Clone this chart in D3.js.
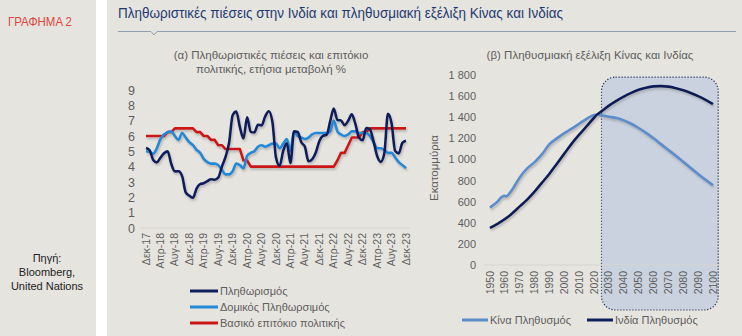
<!DOCTYPE html>
<html><head><meta charset="utf-8">
<script src="https://cdn.jsdelivr.net/npm/d3@7"></script>
<style>
html,body{margin:0;padding:0;background:#fff;}
svg{display:block;font-family:"Liberation Sans",Arial,sans-serif;}
</style></head>
<body>
<svg id="c" width="742" height="336"></svg>
<script>
// ---------- DATA ----------
const monthLabels = ["Δεκ-17","Απρ-18","Αυγ-18","Δεκ-18","Απρ-19","Αυγ-19","Δεκ-19","Απρ-20","Αυγ-20","Δεκ-20","Απρ-21","Αυγ-21","Δεκ-21","Απρ-22","Αυγ-22","Δεκ-22","Απρ-23","Αυγ-23","Δεκ-23"];
// monthly, Dec 2017 .. Dec 2023
const inflation = [5.21,
 5.07,4.44,4.28,4.58,4.87,5.00,4.17,3.69,3.70,3.38,2.33,2.11,
 1.97,2.57,2.86,2.92,3.05,3.18,3.15,3.28,3.99,4.62,5.54,7.35,
 7.59,6.58,5.84,7.22,6.27,6.23,6.73,6.69,7.27,7.61,6.93,4.59,
 4.06,5.03,5.52,4.23,6.30,6.26,5.59,5.30,4.35,4.48,4.91,5.66,
 6.01,6.07,6.95,7.79,7.04,7.01,6.71,7.00,7.41,6.77,5.88,5.72,
 6.52,6.44,5.66,4.70,4.31,4.87,7.44,6.83,5.02,4.87,5.55,5.69];
const coreInflation = [5.0,
 4.95,4.85,5.2,5.8,6.1,6.25,6.3,6.0,5.75,6.2,5.9,5.6,
 5.4,5.1,4.9,4.5,4.3,4.2,4.2,4.1,3.8,3.5,3.5,3.7,
 4.2,4.1,3.9,4.7,4.9,5.0,5.3,5.4,5.3,5.4,5.5,5.5,
 5.2,5.5,5.8,5.0,6.3,6.0,5.9,5.8,5.9,6.1,6.2,6.2,
 6.2,6.2,6.3,7.0,6.3,6.1,6.0,6.1,6.3,6.3,6.2,6.2,
 6.2,6.0,5.6,5.2,5.2,5.1,4.9,4.9,4.6,4.3,4.1,3.9];
const policyRate = [6.00,
 6.00,6.00,6.00,6.00,6.00,6.25,6.25,6.50,6.50,6.50,6.50,6.50,
 6.50,6.25,6.25,6.00,6.00,5.75,5.75,5.40,5.40,5.15,5.15,5.15,
 5.15,5.15,4.40,4.40,4.00,4.00,4.00,4.00,4.00,4.00,4.00,4.00,
 4.00,4.00,4.00,4.00,4.00,4.00,4.00,4.00,4.00,4.00,4.00,4.00,
 4.00,4.00,4.00,4.00,4.40,4.90,4.90,5.40,5.90,5.90,5.90,6.25,
 6.25,6.50,6.50,6.50,6.50,6.50,6.50,6.50,6.50,6.50,6.50,6.50];
const leftYTicks = [0,1,2,3,4,5,6,7,8,9];

const popYears = [1950,1955,1958,1960,1961,1962,1965,1970,1975,1980,1985,1990,1995,2000,2005,2010,2015,2020,2022,2025,2030,2035,2040,2045,2050,2055,2060,2065,2070,2075,2080,2085,2090,2095,2100];
const chinaPop = [544,600,645,655,650,660,715,830,915,975,1050,1145,1200,1250,1292,1338,1385,1420,1426,1418,1405,1392,1370,1338,1298,1252,1200,1145,1090,1035,978,920,862,808,755];
const indiaPop = [350,390,415,435,445,455,490,555,620,695,780,865,960,1055,1150,1235,1315,1395,1425,1455,1510,1555,1595,1630,1660,1680,1692,1695,1690,1675,1655,1630,1600,1565,1525];
const yearTicks = [1950,1960,1970,1980,1990,2000,2010,2020,2030,2040,2050,2060,2070,2080,2090,2100];
const rightYTicks = [0,200,400,600,800,1000,1200,1400,1600,1800];

// ---------- STYLE ----------
const BG = "#e6e4df", GREY = "#5e5e5e";
const C_INF = "#0d1f5c", C_CORE = "#2389d6", C_RATE = "#cc1818";
const C_CHN = "#5b8dcd", C_IND = "#0f1f57";

const svg = d3.select("#c");
const defs = svg.append("defs");
const f = defs.append("filter").attr("id","sh").attr("x","-10%").attr("y","-10%").attr("width","120%").attr("height","130%");
f.append("feDropShadow").attr("dx",1).attr("dy",2).attr("stdDeviation",1.2).attr("flood-color","#7a7a7a").attr("flood-opacity",0.45);

// panels
svg.append("rect").attr("x",0).attr("y",0).attr("width",96).attr("height",336).attr("fill",BG);
svg.append("rect").attr("x",107).attr("y",0).attr("width",635).attr("height",336).attr("fill",BG);

svg.append("text").attr("x",8).attr("y",26).attr("fill","#e0453a")
  .attr("font-family",'"Liberation Sans Narrow","Arial Narrow",sans-serif').attr("font-size",12.5)
  .attr("textLength",64).attr("lengthAdjust","spacingAndGlyphs").text("ΓΡΑΦΗΜΑ 2");
[["Πηγή:",262],["Bloomberg,",276],["United Nations",290]].forEach(([t,y])=>{
  svg.append("text").attr("x",47).attr("y",y).attr("text-anchor","middle").attr("fill","#222").attr("font-size",11).text(t);
});

// main title
svg.append("text").attr("x",118).attr("y",18).attr("fill","#1f3a70")
  .attr("font-family",'"Liberation Sans Narrow","Arial Narrow",sans-serif').attr("font-size",14)
  .attr("textLength",445).attr("lengthAdjust","spacingAndGlyphs")
  .text("Πληθωριστικές πιέσεις στην Ινδία και πληθυσμιακή εξέλιξη Κίνας και Ινδίας");
svg.append("path").attr("d","M118,31.5H151l3,3.5l3,-3.5H736").attr("fill","none").attr("stroke","#8d9db2").attr("stroke-width",1);

// ---------- LEFT CHART ----------
const xL = d3.scaleLinear().domain([0,72]).range([146,406]);
const yL = d3.scaleLinear().domain([0,9]).range([228,90]);

svg.append("text").attr("x",271).attr("y",59).attr("text-anchor","middle").attr("fill",GREY).attr("font-size",11.5).text("(α) Πληθωριστικές πιέσεις και επιτόκιο");
svg.append("text").attr("x",271).attr("y",73).attr("text-anchor","middle").attr("fill",GREY).attr("font-size",11.5).text("πολιτικής, ετήσια μεταβολή %");

svg.append("line").attr("x1",140).attr("x2",410).attr("y1",yL(0)).attr("y2",yL(0)).attr("stroke","#d6d4d0").attr("stroke-width",1);

const axL = svg.append("g").attr("transform","translate(137,0)")
  .call(d3.axisLeft(yL).tickValues(leftYTicks).tickSize(0).tickPadding(2).tickFormat(d3.format("d")));
axL.select(".domain").remove();
axL.selectAll("text").attr("fill",GREY).attr("font-size",12.5).attr("font-family",'"Liberation Sans",Arial,sans-serif');

svg.append("g").selectAll("text").data(monthLabels).join("text")
  .attr("transform",(d,i)=>`translate(${xL(i*4)+3.5},233) rotate(-90)`)
  .attr("text-anchor","end").attr("fill",GREY).attr("font-size",10.5).text(d=>d);

const lineL = c => d3.line().x((d,i)=>xL(i)).y(d=>yL(d)).curve(c);
const gL = svg.append("g").attr("filter","url(#sh)");
gL.append("path").datum(policyRate).attr("d",lineL(d3.curveLinear)).attr("fill","none").attr("stroke",C_RATE).attr("stroke-width",2.6).attr("stroke-linejoin","round");
gL.append("path").datum(coreInflation).attr("d",lineL(d3.curveMonotoneX)).attr("fill","none").attr("stroke",C_CORE).attr("stroke-width",2.6).attr("stroke-linejoin","round");
gL.append("path").datum(inflation).attr("d",lineL(d3.curveMonotoneX)).attr("fill","none").attr("stroke",C_INF).attr("stroke-width",2.6).attr("stroke-linejoin","round");

const legL = [["Πληθωρισμός",C_INF,291],["Δομικός Πληθωρσιμός",C_CORE,307],["Βασικό επιτόκιο πολιτικής",C_RATE,323]];
legL.forEach(([t,c,y])=>{
  svg.append("line").attr("x1",190).attr("x2",218).attr("y1",y).attr("y2",y).attr("stroke",c).attr("stroke-width",3);
  svg.append("text").attr("x",220).attr("y",y+4).attr("fill",GREY).attr("font-size",11).text(t);
});

// ---------- RIGHT CHART ----------
const xR = d3.scaleLinear().domain([1950,2100]).range([490,713]);
const yR = d3.scaleLinear().domain([0,1800]).range([265,75]);
const loc = d3.formatLocale({decimal:",",thousands:" ",grouping:[3],currency:["",""]});

svg.append("text").attr("x",590).attr("y",59).attr("text-anchor","middle").attr("fill",GREY).attr("font-size",11.5).text("(β) Πληθυσμιακή εξέλιξη Κίνας και Ινδίας");

// projection box
svg.append("rect").attr("x",xR(2025)).attr("y",yR(1780)).attr("width",xR(2103.5)-xR(2025)).attr("height",310-yR(1780))
  .attr("rx",14).attr("ry",14).attr("fill","#c9d2de").attr("stroke","#1d2d5a").attr("stroke-width",1.2).attr("stroke-dasharray","1.2,1.8");

svg.append("line").attr("x1",484).attr("x2",720).attr("y1",yR(0)).attr("y2",yR(0)).attr("stroke","#d6d4d0").attr("stroke-width",1);

const axR = svg.append("g").attr("transform","translate(479,0)")
  .call(d3.axisLeft(yR).tickValues(rightYTicks).tickSize(0).tickPadding(3).tickFormat(loc.format(",")));
axR.select(".domain").remove();
axR.selectAll("text").attr("fill",GREY).attr("font-size",11).attr("font-family",'"Liberation Sans",Arial,sans-serif');

svg.append("text").attr("transform","translate(438,168) rotate(-90)").attr("text-anchor","middle").attr("fill",GREY).attr("font-size",11.5).text("Εκατομμύρια");

svg.append("g").selectAll("text").data(yearTicks).join("text")
  .attr("transform",d=>`translate(${xR(d)+3.5},271) rotate(-90)`)
  .attr("text-anchor","end").attr("fill",GREY).attr("font-size",10.5).text(d=>d);

const lineR = d3.line().x((d,i)=>xR(popYears[i])).y(d=>yR(d)).curve(d3.curveMonotoneX);
const gR = svg.append("g").attr("filter","url(#sh)");
gR.append("path").datum(chinaPop).attr("d",lineR).attr("fill","none").attr("stroke",C_CHN).attr("stroke-width",2.6);
gR.append("path").datum(indiaPop).attr("d",lineR).attr("fill","none").attr("stroke",C_IND).attr("stroke-width",2.6);

[["Κίνα Πληθυσμός",C_CHN,462],["Ινδία Πληθυσμός",C_IND,587]].forEach(([t,c,x])=>{
  svg.append("line").attr("x1",x).attr("x2",x+26).attr("y1",320).attr("y2",320).attr("stroke",c).attr("stroke-width",3);
  svg.append("text").attr("x",x+28).attr("y",324).attr("fill",GREY).attr("font-size",11).text(t);
});
</script>
</body></html>
